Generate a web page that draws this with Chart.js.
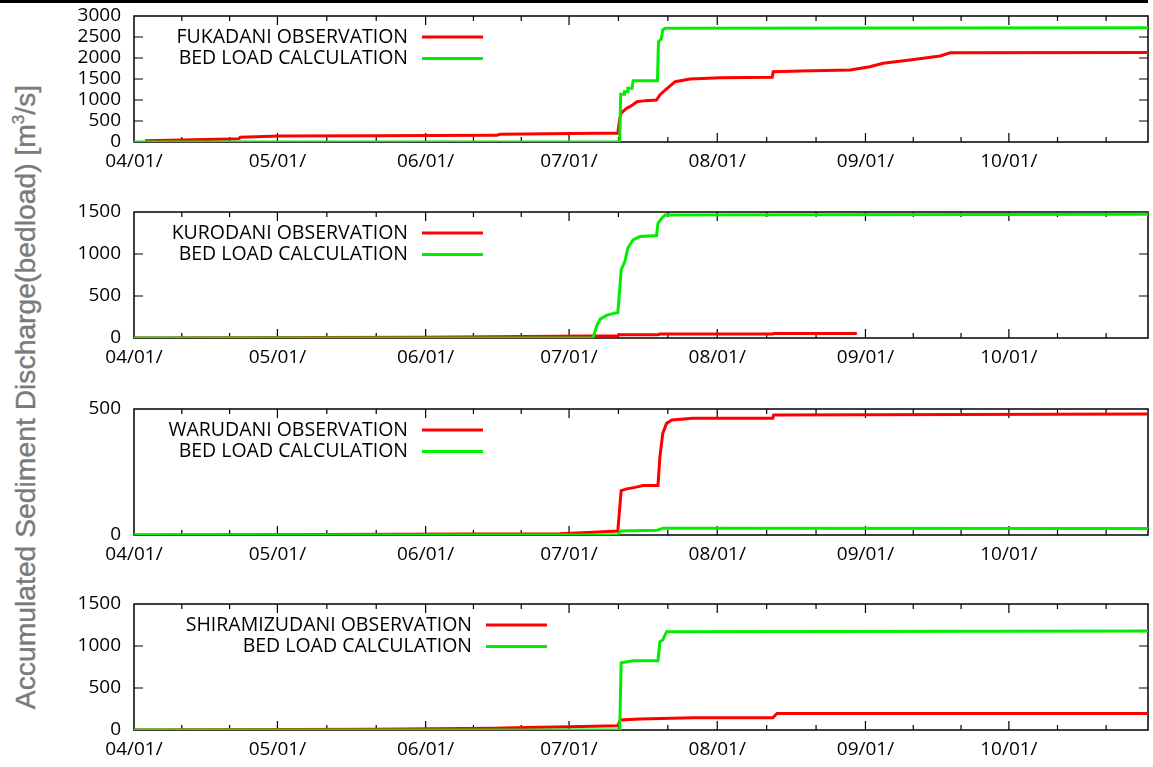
<!DOCTYPE html>
<html>
<head>
<meta charset="utf-8">
<script src="https://cdn.jsdelivr.net/npm/chart.js@4.4.1/dist/chart.umd.min.js"></script>
<style>
  html, body { margin: 0; padding: 0; background: #fff; }
  body { width: 1153px; height: 767px; position: relative; overflow: hidden; }
  .topRule { position: absolute; left: 0; top: 0; width: 1148px; height: 3px; background: #000; }
  .panel { position: absolute; left: 0; width: 1153px; height: 196px; }
  .ytitle {
    position: absolute; left: 25px; top: 397px;
    transform: translate(-50%, -50%) rotate(-90deg);
    white-space: nowrap;
    font: 28.3px "Liberation Sans", Arial, sans-serif;
    color: #7a7a7a;
    -webkit-text-stroke: 0.4px #7a7a7a;
  }
  .ytitle sup { font-size: 17px; line-height: 0; }
</style>
</head>
<body>
<div class="topRule"></div>
<div class="ytitle">Accumulated Sediment Discharge(bedload) [m<sup>3</sup>/s]</div>
<div class="panel" style="top:2px"><canvas id="pFukadani"></canvas></div>
<div class="panel" style="top:198px"><canvas id="pKurodani"></canvas></div>
<div class="panel" style="top:395px"><canvas id="pWarudani"></canvas></div>
<div class="panel" style="top:590px"><canvas id="pShiramizu"></canvas></div>

<script>
// x values are days counted from 04/01
const monthDays = [0, 30, 61, 91, 122, 153, 183];
const monthLabels = ['04/01/', '05/01/', '06/01/', '07/01/', '08/01/', '09/01/', '10/01/'];
const lastDay = 212.1;

// FUKADANI
const fukaObsDays = [2.3, 20.1, 22.0, 22.2, 30.5, 50, 75.9, 76.5, 96.8, 101.2, 101.6, 101.9, 103, 104, 105.2, 107, 109.3, 110, 111.1, 113.2, 116.3, 122.6, 133.5, 133.7, 139.3, 149.8, 153.9, 156.7, 162.3, 168.6, 170.7, 212.1];
const fukaObs     = [31, 71, 80, 111, 143, 150, 159, 183, 207, 210, 550, 690, 800, 860, 960, 985, 1000, 1120, 1238, 1436, 1500, 1530, 1540, 1674, 1690, 1714, 1793, 1873, 1952, 2048, 2126, 2130];
const fukaCalcDays = [0, 101.6, 101.8, 102.5, 102.6, 103.2, 103.3, 104.2, 104.4, 109.5, 109.7, 110.3, 110.6, 111.1, 212.1];
const fukaCalc     = [0, 0, 1135, 1135, 1198, 1198, 1278, 1278, 1460, 1460, 2388, 2450, 2667, 2706, 2720];

// KURODANI
const kuroObsDays = [0, 60, 89, 101.2, 101.6, 109.6, 110, 133.6, 133.8, 151.2];
const kuroObs     = [0, 10, 22, 27, 39, 39, 47, 47, 55, 55];
const kuroCalcDays = [0, 96.0, 96.8, 97.5, 98.9, 101.2, 101.6, 101.9, 102.7, 103.3, 104.4, 105.8, 109.3, 109.6, 110.4, 111.1, 212.1];
const kuroCalc     = [0, 0, 145, 224, 272, 303, 579, 815, 913, 1071, 1169, 1208, 1220, 1366, 1425, 1464, 1474];

// WARUDANI
const waruObsDays = [0, 40, 70, 89, 96, 101.2, 101.9, 103.1, 104.8, 106.5, 109.6, 110, 110.6, 111.4, 112.5, 116.9, 133.6, 133.8, 212.1];
const waruObs     = [0, 2, 4, 5, 11, 16, 176, 183, 189, 196, 196, 309, 403, 443, 456, 463, 463, 476, 480];
const waruCalcDays = [0, 101.2, 101.8, 109.5, 110.6, 212.1];
const waruCalc     = [0, 0, 16, 19, 27, 26];

// SHIRAMIZUDANI
const shiraObsDays = [0, 50, 75, 82, 91, 101.2, 101.7, 105.8, 116.9, 133.6, 134.5, 212.1];
const shiraObs     = [0, 8, 20, 30, 39, 51, 119, 131, 146, 146, 197, 195];
const shiraCalcDays = [0, 101.6, 101.9, 104.4, 109.6, 110, 110.6, 111.4, 212.1];
const shiraCalc     = [0, 0, 801, 825, 825, 1051, 1071, 1170, 1178];

const FONT = { family: '"Open Sans", "Noto Sans", sans-serif', size: 19 };

function pairs(xs, ys) {
    return xs.map((x, i) => ({ x: x, y: ys[i] }));
}

// gnuplot-like box with inward ticks on all four sides
const frameTicks = {
    id: 'frameTicks',
    beforeDatasetsDraw(chart) {
        const { ctx, chartArea: a, scales: { x, y } } = chart;
        ctx.save();
        ctx.strokeStyle = '#000';
        ctx.lineWidth = 1.5;
        ctx.strokeRect(a.left, a.top, a.right - a.left, a.bottom - a.top);
        ctx.lineWidth = 1.2;
        ctx.beginPath();
        monthDays.forEach((d, i) => {
            const next = i + 1 < monthDays.length ? monthDays[i + 1] : d + 30.5;
            for (let k = 0; k < 3; k++) {
                const v = d + k * (next - d) / 3;
                if (v <= x.min || v >= x.max) continue;
                const px = x.getPixelForValue(v);
                const len = k === 0 ? 9 : 5;
                ctx.moveTo(px, a.bottom); ctx.lineTo(px, a.bottom - len);
                ctx.moveTo(px, a.top); ctx.lineTo(px, a.top + len);
            }
        });
        y.ticks.forEach(t => {
            if (t.value <= y.min || t.value >= y.max) return;
            const py = y.getPixelForValue(t.value);
            ctx.moveTo(a.left, py); ctx.lineTo(a.left + 9, py);
            ctx.moveTo(a.right, py); ctx.lineTo(a.right - 9, py);
        });
        ctx.stroke();
        ctx.restore();
    },
    afterDraw(chart, args, opts) {
        // key: right aligned labels with a line sample after them
        const { ctx, chartArea: a } = chart;
        const right = a.left + opts.right;
        ctx.save();
        ctx.font = '19.5px ' + FONT.family;
        ctx.textAlign = 'right';
        ctx.textBaseline = 'middle';
        chart.data.datasets.forEach((ds, i) => {
            const yy = a.top + 21 + i * 21.5;
            ctx.fillStyle = '#000';
            ctx.fillText(ds.label, right, yy);
            ctx.strokeStyle = ds.borderColor;
            ctx.lineWidth = 3;
            ctx.beginPath();
            ctx.moveTo(right + 14, yy);
            ctx.lineTo(right + 75, yy);
            ctx.stroke();
        });
        ctx.restore();
    }
};

function makePanel(id, obsLabel, obsDays, obsVals, calcDays, calcVals, yMax, yStep, keyRight) {
    const el = document.getElementById(id);
    return new Chart(el, {
        type: 'line',
        data: {
            datasets: [{
                label: obsLabel,
                data: pairs(obsDays, obsVals),
                borderColor: '#ff0000',
                borderWidth: 3,
                pointRadius: 0,
                tension: 0,
                order: 1
            }, {
                label: 'BED LOAD CALCULATION',
                data: pairs(calcDays, calcVals),
                borderColor: '#00ee00',
                borderWidth: 3,
                pointRadius: 0,
                tension: 0,
                order: 0
            }]
        },
        options: {
            responsive: false,
            animation: false,
            layout: { padding: { top: 14, right: 5, left: 0, bottom: 0 } },
            plugins: {
                legend: { display: false },
                tooltip: { enabled: false },
                frameTicks: { right: keyRight }
            },
            scales: {
                x: {
                    type: 'linear',
                    min: 0,
                    max: lastDay,
                    grid: { display: false, drawTicks: false },
                    border: { display: false },
                    afterBuildTicks: s => { s.ticks = monthDays.map(v => ({ value: v })); },
                    afterFit: s => { s.height = 56; s.paddingLeft = 0; s.paddingRight = 0; },
                    ticks: {
                        autoSkip: false,
                        maxRotation: 0,
                        padding: 8,
                        color: '#000',
                        font: FONT,
                        callback: v => monthLabels[monthDays.indexOf(v)]
                    }
                },
                y: {
                    min: 0,
                    max: yMax,
                    grid: { display: false, drawTicks: false },
                    border: { display: false },
                    afterFit: s => { s.width = 134; s.paddingTop = 0; s.paddingBottom = 0; },
                    ticks: {
                        stepSize: yStep,
                        autoSkip: false,
                        padding: 13,
                        color: '#000',
                        font: FONT,
                        callback: v => String(v)
                    }
                }
            }
        },
        plugins: [frameTicks]
    });
}

document.querySelectorAll('canvas').forEach(c => { c.width = 1153; c.height = 196; });

makePanel('pFukadani', 'FUKADANI OBSERVATION', fukaObsDays, fukaObs, fukaCalcDays, fukaCalc, 3000, 500, 274);
makePanel('pKurodani', 'KURODANI OBSERVATION', kuroObsDays, kuroObs, kuroCalcDays, kuroCalc, 1500, 500, 274);
makePanel('pWarudani', 'WARUDANI OBSERVATION', waruObsDays, waruObs, waruCalcDays, waruCalc, 500, 500, 274);
makePanel('pShiramizu', 'SHIRAMIZUDANI OBSERVATION', shiraObsDays, shiraObs, shiraCalcDays, shiraCalc, 1500, 500, 338);
</script>
</body>
</html>
